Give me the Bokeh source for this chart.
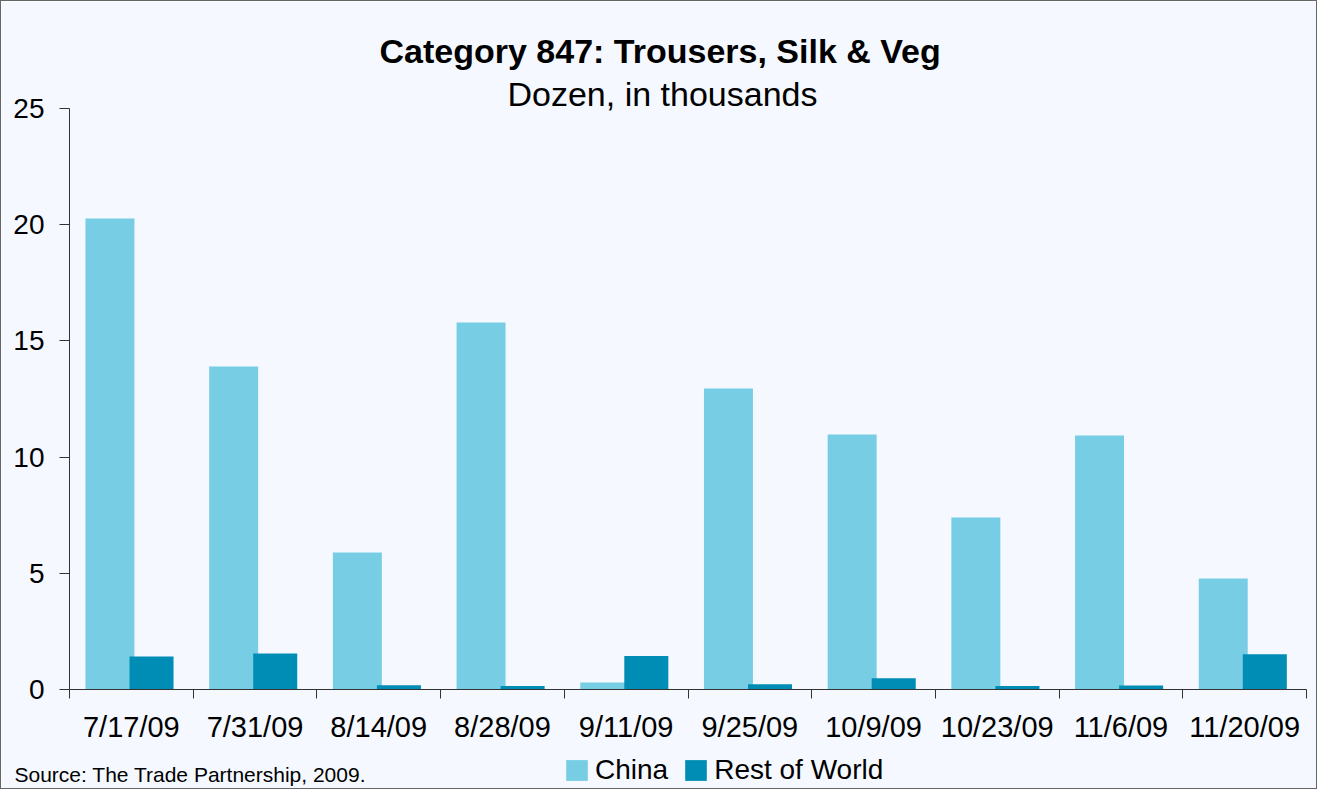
import numpy as np
from bokeh.plotting import figure
from bokeh.models import (ColumnDataSource, Range1d, FixedTicker, Legend,
                          LegendItem, Label)
from bokeh.transform import dodge
from bokeh.embed import file_html
from bokeh.resources import INLINE

# ---- data ----
dates = ["7/17/09", "7/31/09", "8/14/09", "8/28/09", "9/11/09",
         "9/25/09", "10/9/09", "10/23/09", "11/6/09", "11/20/09"]
china = [20.27, 13.9, 5.9, 15.79, 0.3, 12.95, 10.97, 7.4, 10.93, 4.78]
rest_of_world = [1.42, 1.55, 0.18, 0.15, 1.44, 0.23, 0.48, 0.15, 0.17, 1.52]
y_ticks = [0, 5, 10, 15, 20, 25]
series_names = ["China", "Rest of World"]

title_text = "Category 847: Trousers, Silk & Veg"
subtitle_text = "Dozen, in thousands"
source_text = "Source: The Trade Partnership, 2009."

FONT = "Liberation Sans"
BG = "#F5F9FF"
C_CHINA = "#77CDE3"
C_ROW = "#008DB5"
AX = "#333333"

W, H = 1317, 789
# pixel placement of the plotting area inside the canvas
PX_LEFT, PX_RIGHT, PX_TOP, PX_ZERO = 68, 1305, 107, 688
n = len(dates)
y_max = y_ticks[-1]
xpu = (PX_RIGHT - PX_LEFT) / n
ypu = (PX_ZERO - PX_TOP) / y_max

centers = [i + 0.5 for i in range(n)]
src = ColumnDataSource(dict(x=centers, china=china, row=rest_of_world))

p = figure(width=W, height=H, output_backend="svg", toolbar_location=None,
           x_range=Range1d(-PX_LEFT / xpu, n + (W - PX_RIGHT) / xpu),
           y_range=Range1d(-(H - PX_ZERO) / ypu, y_max + PX_TOP / ypu),
           min_border=0, min_border_left=0, min_border_right=0,
           min_border_top=0, min_border_bottom=0,
           background_fill_color=BG, border_fill_color=BG, outline_line_color=None)
p.styles = {"border": "1px solid #666666"}
p.title.visible = False
p.title.text = ""

r1 = p.vbar(x=dodge("x", -0.173, range=p.x_range), top="china", width=0.396,
            source=src, fill_color=C_CHINA, line_color=None)
r2 = p.vbar(x=dodge("x", 0.163, range=p.x_range), top="row", width=0.356,
            source=src, fill_color=C_ROW, line_color=None)

p.xgrid.visible = False
p.ygrid.visible = False

# x axis drawn at y = 0
xa = p.xaxis[0]
xa.fixed_location = 0
xa.bounds = (0, n)
xa.ticker = FixedTicker(ticks=centers, minor_ticks=list(range(n + 1)))
xa.major_label_overrides = {c: d for c, d in zip(centers, dates)}
xa.major_tick_out = 0
xa.major_tick_in = 0
xa.minor_tick_out = 9
xa.minor_tick_in = 0
xa.minor_tick_line_color = AX
xa.axis_line_color = AX
xa.major_label_text_font = FONT
xa.major_label_text_font_size = "29px"
xa.major_label_text_color = "#000000"
xa.major_label_standoff = 12

# y axis drawn at x = 0
ya = p.yaxis[0]
ya.fixed_location = 0
ya.bounds = (0, y_max)
ya.ticker = FixedTicker(ticks=y_ticks)
ya.major_tick_out = 10
ya.major_tick_in = 0
ya.minor_tick_line_color = None
ya.axis_line_color = AX
ya.major_tick_line_color = AX
ya.major_label_text_font = FONT
ya.major_label_text_font_size = "28px"
ya.major_label_text_color = "#000000"
ya.major_label_standoff = 15

# titles
p.add_layout(Label(x=378, y=H - 49, x_units="screen", y_units="screen", text=title_text,
                   text_font=FONT, text_font_size="34px", text_font_style="bold",
                   text_align="left", text_baseline="alphabetic", text_color="#000000"))
p.add_layout(Label(x=506, y=H - 92, x_units="screen", y_units="screen", text=subtitle_text,
                   text_font=FONT, text_font_size="34px",
                   text_align="left", text_baseline="alphabetic", text_color="#000000"))
# source note
p.add_layout(Label(x=13, y=16, x_units="screen", y_units="screen", text=source_text,
                   text_font=FONT, text_font_size="21px", text_align="left",
                   text_baseline="alphabetic", text_color="#000000"))

legend = Legend(items=[LegendItem(label=series_names[0], renderers=[r1]),
                       LegendItem(label=series_names[1], renderers=[r2])],
                orientation="horizontal", location=(562, 4.5),
                glyph_width=27, glyph_height=26, label_standoff=5, spacing=14,
                padding=0, margin=0, label_text_font=FONT, label_text_font_size="28px",
                label_text_color="#000000",
                background_fill_alpha=0, border_line_alpha=0)
p.add_layout(legend)

open("out.html", "w").write(file_html(p, INLINE))
